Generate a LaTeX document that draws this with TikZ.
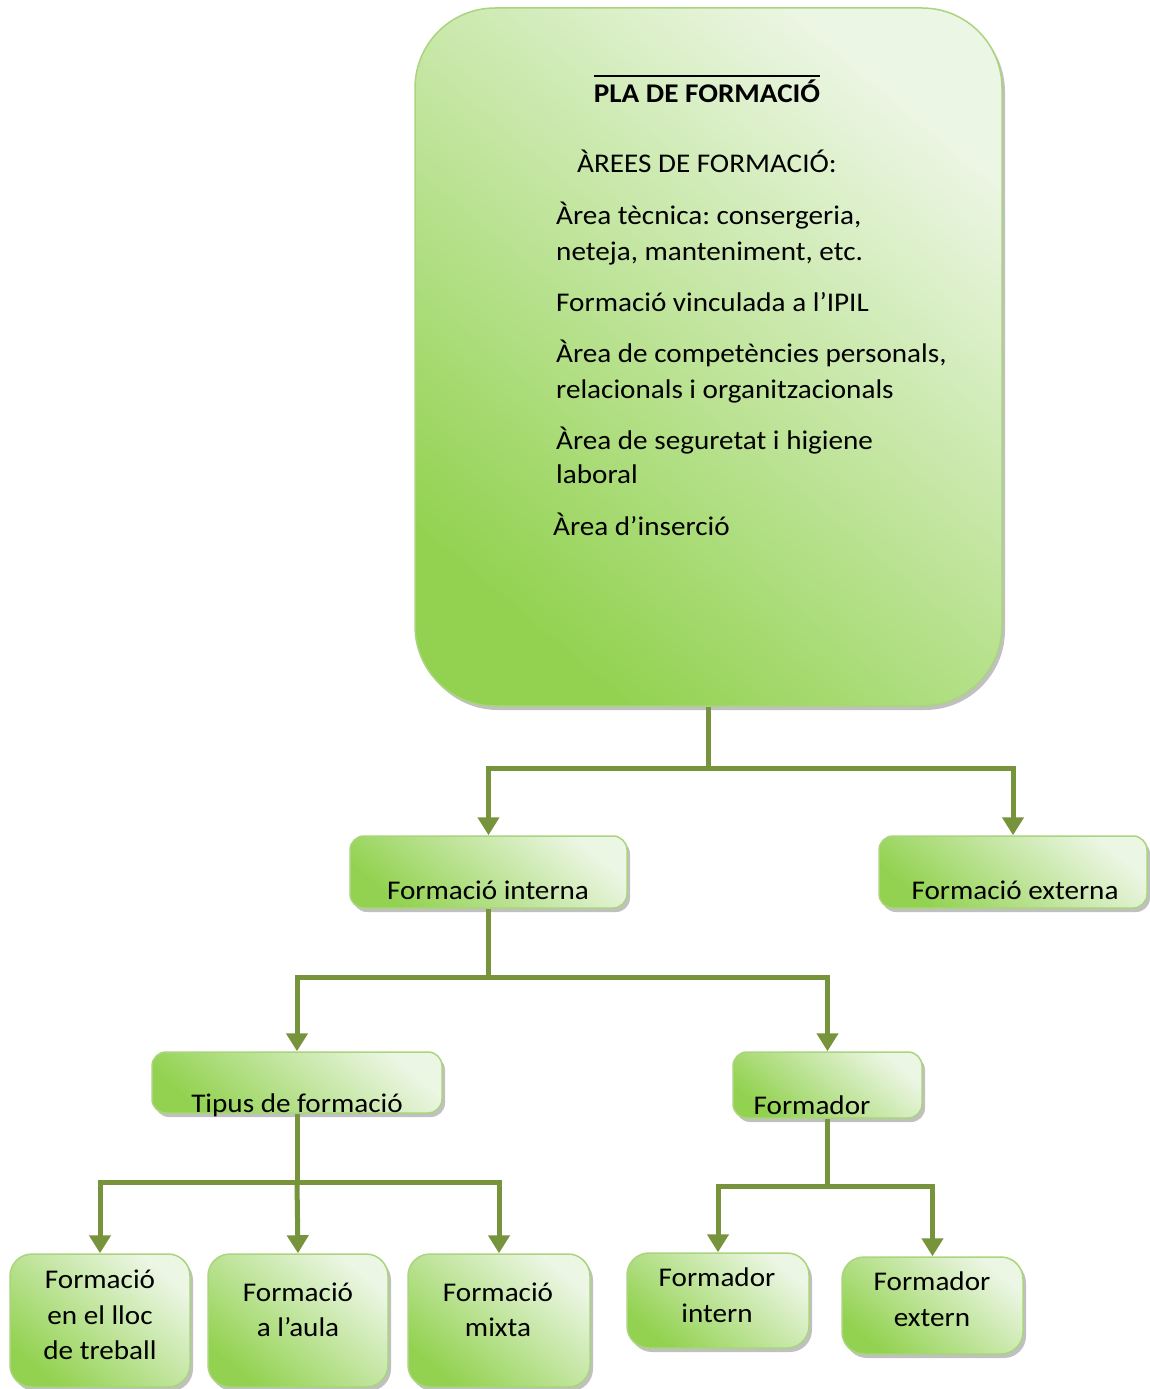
\documentclass[tikz,border=0pt]{standalone}
\usepackage{fontspec}
\setmainfont{Carlito}[FakeStretch=1.08]
\usetikzlibrary{arrows.meta,shadows}
\definecolor{gdark}{RGB}{146,210,80}
\definecolor{glight}{RGB}{236,246,228}
\definecolor{gborder}{RGB}{170,212,125}
\definecolor{conn}{RGB}{119,147,60}
\frenchspacing
\begin{document}
\begin{tikzpicture}[x=1pt,y=-1pt,
  gbox/.style={draw=gborder,line width=1.5pt,inner sep=0pt,
    top color=glight,bottom color=gdark,shading angle=-40,
    drop shadow={shadow xshift=3pt,shadow yshift=-4pt,fill=black!45,opacity=0.55}},
  txt/.style={inner sep=0pt,font=\fontsize{27}{35.5}\selectfont\frenchspacing},
  ctxt/.style={txt,align=center,anchor=center},
  ltxt/.style={txt,anchor=base west},
  link/.style={draw=conn,line width=5pt},
  arr/.style={link,-{Triangle[width=21pt,length=18pt]}}]
\useasboundingbox (0,0) rectangle (1150,1389);
% boxes
\node[gbox,rounded corners=80pt,minimum width=587pt,minimum height=698pt] (plan) at (708.5,357) {};
\node[gbox,rounded corners=14pt,minimum width=277pt,minimum height=72pt] (intern) at (488.5,872) {};
\node[gbox,rounded corners=14pt,minimum width=268pt,minimum height=72pt] (extern) at (1013,872) {};
\node[gbox,rounded corners=14pt,minimum width=290pt,minimum height=61pt] (tipus) at (297,1082.5) {};
\node[gbox,rounded corners=14pt,minimum width=189pt,minimum height=66pt] (formador) at (827.5,1085) {};
\node[gbox,rounded corners=22pt,minimum width=180pt,minimum height=133pt] (lloc) at (100,1320.5) {};
\node[gbox,rounded corners=22pt,minimum width=180pt,minimum height=133pt] (aula) at (298,1320.5) {};
\node[gbox,rounded corners=22pt,minimum width=182pt,minimum height=133pt] (mixta) at (499,1320.5) {};
\node[gbox,rounded corners=22pt,minimum width=182pt,minimum height=95pt] (fint) at (718,1300.5) {};
\node[gbox,rounded corners=22pt,minimum width=181pt,minimum height=97pt] (fext) at (932.5,1305.5) {};
% main text
\node[txt,font=\fontsize{27}{30}\selectfont\bfseries,anchor=base] (title) at (707,102) {PLA DE FORMACIÓ};
\draw[line width=1.5pt] ([yshift=3pt]title.north west) -- ([yshift=3pt]title.north east);
\node[ltxt] (arees) at (577,172) {ÀREES DE FORMACIÓ:};
\node[ltxt] (a1) at (556,224) {Àrea tècnica: consergeria,};
\node[ltxt] (a1b) at (556,260) {neteja, manteniment, etc.};
\node[ltxt] (a2) at (556,311) {Formació vinculada a l’IPIL};
\node[ltxt] (a3) at (556,362) {Àrea de competències personals,};
\node[ltxt] (a3b) at (556,398) {relacionals i organitzacionals};
\node[ltxt] (a4) at (556,449) {Àrea de seguretat i higiene};
\node[ltxt] (a4b) at (556,483) {laboral};
\node[ltxt] (a5) at (553,535) {Àrea d’inserció};
% box texts
\node[txt,anchor=base] (tint) at (488,899) {Formació interna};
\node[txt,anchor=base] (text) at (1015,899) {Formació externa};
\node[txt,anchor=base] (ttip) at (297,1112) {Tipus de formació};
\node[txt,anchor=base] (tfor) at (812,1114) {Formador};
\node[ctxt] (tlloc) at (100,1315) {Formació\\en el lloc\\de treball};
\node[ctxt] (taula) at (298,1310) {Formació\\a l’aula};
\node[ctxt] (tmix) at (498,1310) {Formació\\mixta};
\node[ctxt] (tfint) at (717,1295) {Formador\\intern};
\node[ctxt] (tfext) at (932,1299) {Formador\\extern};
% connectors
\coordinate (j1) at (708.5,768);
\coordinate (j2) at (488.5,977);
\coordinate (j3) at (297,1182);
\coordinate (j4) at (827.5,1186);
\draw[link] (plan.south) -- (j1);
\draw[arr] (j1) -| (intern.north);
\draw[arr] (j1) -| (extern.north);
\draw[link] (intern.south) -- (j2);
\draw[arr] (j2) -| (tipus.north);
\draw[arr] (j2) -| (formador.north);
\draw[link] (tipus.south) -- (j3);
\draw[arr] (j3) -| (lloc.north);
\draw[arr] (j3) -- (aula.north);
\draw[arr] (j3) -| (mixta.north);
\draw[link] (formador.south) -- (j4);
\draw[arr] (j4) -| (fint.north);
\draw[arr] (j4) -| (fext.north);
\end{tikzpicture}
\end{document}
